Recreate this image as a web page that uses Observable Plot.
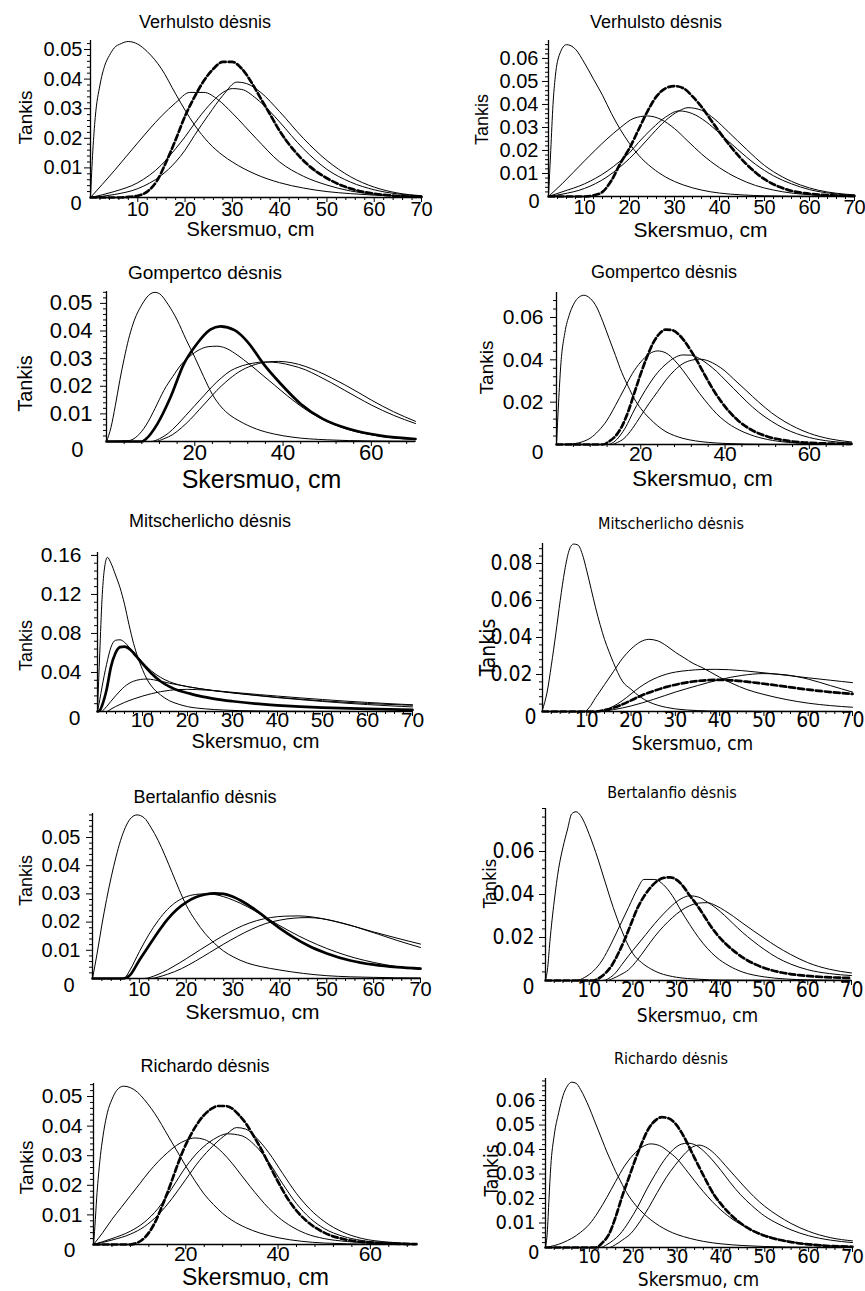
<!DOCTYPE html>
<html><head><meta charset="utf-8">
<script src="https://cdn.jsdelivr.net/npm/d3@7"></script>
<script src="https://cdn.jsdelivr.net/npm/@observablehq/plot@0.6"></script>
<style>
html,body{margin:0;padding:0;background:#fff}
#page{position:relative;width:865px;height:1291px;overflow:hidden;background:#fff}
.panel{position:absolute}
.ttl{position:absolute;white-space:nowrap;transform:translate(-50%,-50%);color:#000;line-height:1}
</style></head>
<body><div id="page"></div>
<script>
// ---------- texts ----------
const Y_LABEL = "Tankis";
const X_LABEL = "Skersmuo, cm";
const TITLES = ["Verhulsto dėsnis","Verhulsto dėsnis","Gompertco dėsnis","Gompertco dėsnis","Mitscherlicho dėsnis","Mitscherlicho dėsnis","Bertalanfio dėsnis","Bertalanfio dėsnis","Richardo dėsnis","Richardo dėsnis"];
const X_TICKS_10 = [10,20,30,40,50,60,70];
const X_TICKS_20 = [20,40,60];
const Y_TICKS_A = [0.01,0.02,0.03,0.04,0.05];
const Y_TICKS_B = [0.01,0.02,0.03,0.04,0.05,0.06];
const Y_TICKS_C = [0.02,0.04,0.06];
const Y_TICKS_D = [0.04,0.08,0.12,0.16];
const Y_TICKS_E = [0.02,0.04,0.06,0.08];

// ---------- data: [diameter cm, density] ----------
// Verhulsto (left)
const verL_1 = [[0,0],[0.5,0.016],[1,0.027],[2,0.038],[3,0.0445],[4,0.048],[5,0.0505],[6.5,0.052],[8,0.0527],[10,0.0518],[12,0.0493],[15,0.0435],[18,0.035],[20,0.0295],[22,0.0245],[25,0.0185],[28,0.0142],[30,0.012],[35,0.0078],[40,0.005],[45,0.0032],[50,0.002],[55,0.0013],[60,0.0008],[70,0.0003]];
const verL_2 = [[0,0],[5,0.009],[10,0.0185],[15,0.0275],[18,0.032],[21,0.0355],[24,0.0355],[27,0.033],[30,0.0285],[35,0.02],[40,0.012],[45,0.0072],[50,0.0042],[55,0.0022],[60,0.0011],[70,0.0003]];
const verL_3 = [[0,0],[6,0],[8,0.0002],[10,0.0006],[12,0.002],[14,0.0055],[16,0.012],[18,0.0195],[20,0.0275],[22,0.034],[24,0.0395],[26,0.0435],[28,0.0458],[30,0.0458],[32,0.0435],[34,0.039],[36,0.0335],[38,0.028],[40,0.0225],[43,0.016],[46,0.011],[50,0.0065],[55,0.003],[60,0.0013],[65,0.0005],[70,0.0002]];
const verL_4 = [[0,0],[5,0.002],[10,0.005],[15,0.011],[18,0.0165],[20,0.0205],[22,0.025],[25,0.031],[28,0.0355],[30,0.0368],[32,0.0365],[35,0.0335],[38,0.029],[40,0.0255],[45,0.0165],[50,0.0095],[55,0.0052],[60,0.0026],[65,0.0012],[70,0.0005]];
const verL_5 = [[0,0],[5,0.001],[10,0.003],[15,0.0075],[18,0.012],[20,0.016],[22,0.021],[25,0.028],[28,0.0345],[31,0.039],[33,0.0385],[36,0.0355],[40,0.029],[45,0.02],[50,0.0125],[55,0.007],[60,0.0035],[65,0.0015],[70,0.0006]];
// Verhulsto (right)
const verR_1 = [[2,0],[2.5,0.02],[3,0.04],[3.5,0.052],[4.5,0.062],[6,0.066],[8,0.064],[10,0.058],[12,0.051],[14,0.044],[16,0.036],[18,0.029],[20,0.023],[22,0.018],[25,0.0125],[28,0.0085],[32,0.005],[36,0.0028],[40,0.0015],[45,0.0007],[50,0.0003],[60,0.0001],[70,0]];
const verR_2 = [[2,0],[5,0.0055],[10,0.0155],[15,0.025],[18,0.03],[21,0.034],[24,0.035],[27,0.0335],[30,0.0295],[33,0.024],[36,0.0185],[40,0.0125],[44,0.008],[48,0.0048],[52,0.0028],[56,0.0015],[60,0.0008],[70,0.0002]];
const verR_3 = [[2,0],[10,0],[12,0.0005],[14,0.002],[16,0.007],[18,0.0145],[20,0.021],[22,0.029],[24,0.037],[26,0.0435],[28,0.047],[30,0.048],[32,0.047],[34,0.0435],[36,0.039],[38,0.0335],[40,0.028],[43,0.0205],[46,0.014],[50,0.0075],[55,0.003],[60,0.0012],[65,0.0005],[70,0.0002]];
const verR_4 = [[2,0],[5,0.002],[10,0.0055],[15,0.011],[18,0.0155],[20,0.019],[22,0.0235],[25,0.0295],[28,0.0345],[31,0.0372],[34,0.036],[37,0.0325],[40,0.0275],[44,0.0205],[48,0.014],[52,0.009],[56,0.0055],[60,0.003],[65,0.0013],[70,0.0005]];
const verR_5 = [[2,0],[5,0.001],[10,0.0035],[15,0.0085],[18,0.013],[20,0.0165],[22,0.0205],[25,0.027],[28,0.033],[31,0.0372],[33,0.0386],[36,0.0375],[39,0.0335],[42,0.028],[46,0.0205],[50,0.0135],[54,0.0085],[58,0.005],[62,0.0027],[66,0.0014],[70,0.0007]];
// Gompertco (left)
const gomL_1 = [[0,0],[1,0.005],[2,0.013],[3,0.022],[4,0.03],[5,0.037],[6,0.0425],[8,0.0495],[10,0.0535],[11,0.054],[12,0.0535],[14,0.0495],[16,0.044],[18,0.037],[20,0.0305],[22,0.0235],[24,0.017],[26,0.0125],[28,0.0095],[30,0.0075],[34,0.0045],[38,0.0027],[42,0.0016],[50,0.0006],[60,0.0002],[70,0.0001]];
const gomL_2 = [[0,0],[5,0.0003],[7,0.002],[9,0.006],[11,0.012],[13,0.0185],[15,0.0235],[17,0.028],[19,0.031],[21,0.0332],[23,0.0343],[25,0.0345],[27,0.0338],[29,0.032],[31,0.0297],[33,0.0272],[35,0.0245],[38,0.0205],[41,0.0165],[44,0.0128],[47,0.0097],[50,0.0072],[55,0.0042],[60,0.0024],[65,0.0013],[70,0.0007]];
const gomL_3 = [[0,0],[8,0],[9,0.001],[11.5,0.0063],[14.5,0.016],[17.5,0.028],[20.5,0.0354],[23.5,0.0405],[25.8,0.0417],[29,0.0403],[32,0.036],[35.6,0.028],[39.4,0.021],[44,0.0136],[49,0.0082],[55,0.0045],[62,0.0021],[70,0.0009]];
const gomL_4 = [[0,0],[10,0],[12,0.001],[14,0.003],[16,0.006],[18,0.0095],[20,0.013],[22,0.0165],[24,0.02],[26,0.023],[28,0.0255],[30,0.027],[33,0.0283],[36,0.0288],[39,0.0285],[42,0.0275],[45,0.026],[48,0.0237],[51,0.0212],[54,0.0185],[57,0.0158],[60,0.0132],[65,0.0095],[70,0.0065]];
const gomL_5 = [[0,0],[11,0],[13,0.001],[15,0.0025],[17,0.005],[19,0.008],[21,0.0115],[23,0.015],[25,0.0185],[27,0.0215],[30,0.0252],[33,0.0275],[36,0.0287],[39,0.029],[42,0.0285],[45,0.0272],[48,0.0253],[51,0.023],[54,0.0205],[57,0.0178],[60,0.015],[65,0.0108],[70,0.0073]];
// Gompertco (right)
const gomR_1 = [[0,0],[0.5,0.02],[1,0.037],[2,0.053],[3,0.061],[4,0.066],[5,0.069],[6.5,0.0705],[8,0.069],[9.5,0.065],[11,0.058],[12.5,0.05],[14,0.042],[15.5,0.034],[17,0.0275],[18.5,0.0215],[20,0.017],[22,0.0125],[24,0.0088],[26,0.006],[28,0.0042],[30,0.0029],[33,0.0017],[36,0.001],[40,0.0005],[50,0.0001],[70,0]];
const gomR_2 = [[0,0],[3,0.0002],[6,0.0012],[8,0.003],[10,0.0065],[12,0.0115],[14,0.0185],[16,0.026],[18,0.0335],[20,0.039],[22,0.0428],[24,0.0442],[26,0.0432],[28,0.0398],[30,0.035],[32,0.0295],[34,0.024],[36,0.019],[38,0.0145],[40,0.011],[43,0.0072],[46,0.0046],[50,0.0024],[55,0.001],[60,0.0004],[70,0.0001]];
const gomR_3 = [[0,0],[11,0],[12.5,0.0015],[14,0.004],[15.5,0.0085],[17,0.0155],[18.5,0.0245],[20,0.0335],[21.5,0.0415],[23,0.0482],[24.5,0.0525],[26,0.0543],[27.5,0.054],[29,0.052],[30.5,0.0485],[32,0.044],[33.5,0.039],[35,0.0335],[37,0.0265],[39,0.0205],[41,0.0155],[43,0.0115],[46,0.0072],[50,0.0038],[55,0.0017],[60,0.0008],[70,0.0003]];
const gomR_4 = [[0,0],[12,0],[13.5,0.001],[15,0.004],[16.5,0.0085],[18,0.0145],[20,0.022],[22,0.0285],[24,0.034],[26,0.038],[28,0.041],[30,0.0423],[32,0.0422],[34,0.0405],[36,0.0378],[38,0.0345],[40,0.0305],[42,0.0265],[45,0.0205],[48,0.0152],[51,0.011],[54,0.0076],[57,0.0051],[60,0.0033],[65,0.0015],[70,0.0007]];
const gomR_5 = [[0,0],[13,0],[14.5,0.001],[16,0.0028],[18,0.0075],[20,0.0135],[22,0.0195],[24,0.025],[26,0.0305],[28,0.035],[30,0.0382],[32,0.0398],[34,0.0403],[36,0.0395],[38,0.0375],[40,0.0347],[42,0.031],[45,0.0255],[48,0.02],[51,0.015],[54,0.011],[57,0.0078],[60,0.0053],[65,0.0026],[70,0.0012]];
// Mitscherlicho (left)
const mitL_1 = [[0,0],[0.5,0.06],[1,0.115],[1.5,0.145],[2.2,0.158],[3,0.152],[4,0.14],[5,0.127],[6,0.11],[7,0.089],[8,0.07],[9,0.055],[10,0.043],[11,0.033],[12,0.026],[14,0.017],[16,0.011],[18,0.0075],[20,0.005],[24,0.0027],[28,0.0015],[35,0.0006],[45,0.0002],[70,0]];
const mitL_2 = [[0,0],[0.5,0.012],[1,0.025],[2,0.048],[3,0.066],[4,0.073],[5,0.0735],[6,0.071],[7,0.066],[8,0.061],[10,0.0505],[12,0.0415],[14,0.035],[16,0.0305],[18,0.0275],[20,0.0255],[25,0.022],[30,0.0192],[35,0.0168],[40,0.0146],[45,0.0127],[50,0.011],[55,0.0095],[60,0.0082],[65,0.0072],[70,0.0064]];
const mitL_3 = [[0,0],[0.5,0.001],[1,0.006],[2,0.022],[3,0.046],[4,0.06],[5,0.066],[6,0.0665],[7,0.0645],[8,0.06],[9,0.0545],[10,0.049],[12,0.039],[14,0.031],[16,0.0255],[18,0.0215],[20,0.019],[23,0.0155],[26,0.013],[30,0.0105],[35,0.008],[40,0.0063],[45,0.005],[50,0.004],[60,0.0026],[70,0.0016]];
const mitL_4 = [[0,0],[0.8,0],[2,0.005],[3,0.0105],[4,0.016],[5,0.021],[6,0.0255],[7,0.0288],[8,0.031],[9.5,0.0328],[11,0.0333],[12.5,0.0325],[14,0.031],[16,0.029],[18,0.0272],[20,0.0255],[23,0.0232],[26,0.0212],[30,0.019],[35,0.0165],[40,0.0142],[45,0.0122],[50,0.0103],[55,0.0086],[60,0.0071],[65,0.0058],[70,0.0047]];
const mitL_5 = [[0,0],[2,0],[3,0.0025],[4,0.005],[5,0.0072],[6,0.0093],[8,0.0128],[10,0.0158],[12,0.0183],[14,0.0203],[16,0.0217],[18,0.0225],[20,0.0227],[22,0.0225],[25,0.0217],[28,0.0205],[32,0.0189],[36,0.0173],[40,0.0158],[45,0.014],[50,0.0123],[55,0.0107],[60,0.0093],[65,0.008],[70,0.0069]];
// Mitscherlicho (right)
const mitR_1 = [[0,0.001],[1,0.01],[2,0.025],[3,0.042],[4,0.06],[5,0.076],[6,0.087],[7,0.0905],[8,0.09],[9,0.085],[10,0.076],[11,0.066],[12,0.056],[13,0.047],[14,0.039],[15,0.0325],[16,0.0265],[17,0.021],[18,0.0165],[20,0.012],[22,0.008],[24,0.0052],[26,0.0034],[28,0.0022],[30,0.0014],[35,0.0005],[40,0.0002],[70,0]];
const mitR_2 = [[0,0],[9.5,0],[10.5,0.002],[12,0.0075],[14,0.0145],[16,0.0215],[18,0.0285],[20,0.0338],[22,0.0375],[24,0.039],[26,0.0382],[28,0.0355],[30,0.032],[32,0.029],[34,0.026],[36,0.0238],[38,0.0212],[40,0.0185],[43,0.015],[46,0.012],[50,0.0092],[55,0.0065],[60,0.0045],[65,0.0032],[70,0.0023]];
const mitR_3 = [[0,0],[12,0],[14,0.0008],[16,0.002],[18,0.0038],[20,0.006],[22,0.0083],[25,0.011],[28,0.0133],[31,0.015],[34,0.0162],[37,0.0169],[40,0.0171],[43,0.0168],[46,0.0161],[50,0.015],[55,0.0134],[60,0.0118],[65,0.0105],[70,0.0095]];
const mitR_4 = [[0,0],[12,0],[14,0.0008],[16,0.0028],[18,0.0058],[20,0.0095],[22,0.0132],[24,0.0162],[26,0.0185],[28,0.0202],[30,0.0213],[33,0.0222],[36,0.0227],[39,0.0228],[42,0.0226],[45,0.0221],[48,0.0214],[52,0.0204],[56,0.0193],[60,0.0182],[65,0.0169],[70,0.0156]];
const mitR_5 = [[0,0],[13,0],[16,0.001],[20,0.003],[25,0.0065],[30,0.0105],[35,0.014],[40,0.0172],[45,0.0195],[50,0.0205],[55,0.0198],[60,0.0175],[65,0.014],[70,0.0105]];
// Bertalanfio (left)
const berL_1 = [[0,0],[1,0.009],[2,0.019],[3,0.028],[4,0.036],[5,0.043],[6,0.049],[7,0.0535],[8,0.0565],[9.5,0.058],[11,0.057],[12.5,0.0535],[14,0.049],[15.5,0.0435],[17,0.0375],[18.5,0.0315],[20,0.026],[22,0.0205],[24,0.016],[26,0.0125],[28,0.0097],[30,0.0077],[33,0.0055],[36,0.0042],[40,0.003],[45,0.0018],[50,0.001],[60,0.0004],[70,0.0002]];
const berL_2 = [[0,0],[6,0],[7,0.0005],[8,0.003],[10,0.0095],[12,0.0155],[14,0.0205],[16,0.0245],[18,0.0273],[20,0.029],[22,0.0298],[24,0.03],[26,0.0298],[28,0.029],[30,0.0278],[33,0.0255],[36,0.0226],[40,0.0187],[44,0.0151],[48,0.012],[52,0.0094],[56,0.0073],[60,0.0057],[65,0.0042],[70,0.0032]];
const berL_3 = [[0,0],[6.5,0],[8,0.0012],[10,0.0065],[12,0.0115],[14,0.0165],[16,0.021],[18,0.0245],[20,0.027],[22,0.0288],[24,0.0298],[26,0.0302],[28,0.03],[30,0.029],[32,0.0273],[34,0.0252],[36,0.0228],[38,0.0202],[40,0.0178],[43,0.0145],[46,0.0117],[50,0.0089],[55,0.0064],[60,0.0049],[65,0.004],[70,0.0035]];
const berL_4 = [[0,0],[11,0],[13,0.0008],[15,0.0022],[17,0.004],[20,0.007],[23,0.0102],[26,0.0133],[29,0.0162],[32,0.0187],[35,0.0205],[38,0.0216],[41,0.0221],[44,0.0222],[47,0.0218],[50,0.0209],[53,0.0197],[56,0.0184],[60,0.0165],[65,0.0143],[70,0.0122]];
const berL_5 = [[0,0],[12.5,0],[14,0.0005],[16,0.0015],[19,0.0035],[22,0.0062],[25,0.0092],[28,0.0122],[31,0.015],[34,0.0175],[37,0.0195],[40,0.0207],[43,0.0214],[46,0.0216],[49,0.0212],[52,0.0202],[55,0.0189],[58,0.0173],[61,0.0157],[65,0.0135],[70,0.011]];
// Bertalanfio (right)
const berR_1 = [[0,0],[0.5,0.006],[1,0.018],[2,0.037],[3,0.052],[4,0.062],[5,0.07],[6,0.0775],[7,0.0785],[8,0.0768],[9,0.073],[10,0.068],[11,0.0625],[12,0.0565],[13,0.05],[14,0.0435],[15,0.037],[16,0.031],[17,0.0255],[18,0.0205],[19,0.016],[20,0.0125],[22,0.0083],[24,0.0055],[26,0.0035],[28,0.0023],[30,0.0015],[35,0.0006],[40,0.0002],[70,0]];
const berR_2 = [[0,0],[7,0],[9,0.0015],[11,0.0045],[13,0.0095],[15,0.017],[17,0.0255],[19,0.034],[21,0.0425],[22.5,0.047],[25,0.047],[27,0.0445],[29,0.0395],[31,0.0325],[33,0.026],[35,0.02],[37,0.015],[39,0.011],[42,0.0068],[45,0.004],[50,0.0017],[55,0.0007],[60,0.0003],[70,0.0001]];
const berR_3 = [[0,0],[11,0],[12,0.0008],[13.5,0.003],[15,0.0065],[16.5,0.012],[18,0.0185],[19.5,0.026],[21,0.0335],[22.5,0.039],[24,0.0432],[25.5,0.0462],[27,0.0477],[28.5,0.048],[30,0.0468],[31.5,0.0438],[33,0.0395],[34.5,0.0355],[36,0.031],[37.5,0.0262],[39,0.022],[41,0.0175],[43,0.0139],[45.5,0.0102],[48,0.0075],[51,0.0052],[54,0.0037],[58,0.0025],[62,0.0018],[70,0.0012]];
const berR_4 = [[0,0],[13,0],[14.5,0.001],[16,0.0035],[17.5,0.0075],[19,0.0115],[21,0.0165],[23,0.0215],[25,0.0265],[27,0.031],[29,0.035],[31,0.038],[33,0.0394],[35,0.0388],[37,0.0365],[39,0.0337],[41,0.0302],[43,0.0263],[45,0.0225],[47.5,0.0183],[50,0.0145],[53,0.0106],[56,0.0077],[60,0.005],[65,0.0032],[70,0.0023]];
const berR_5 = [[0,0],[14,0],[15.5,0.001],[17,0.0025],[19,0.005],[21,0.0095],[23,0.015],[25,0.0205],[27,0.0252],[29,0.0292],[31,0.0325],[33,0.0348],[35,0.036],[37,0.0362],[39,0.0348],[41,0.0325],[43,0.0298],[45,0.0268],[47.5,0.0232],[50,0.0197],[53,0.0157],[56,0.0122],[60,0.0083],[65,0.0052],[70,0.0035]];
// Richardo (left)
const ricL_1 = [[0,0],[0.3,0.006],[0.7,0.016],[1,0.022],[1.5,0.03],[2,0.036],[3,0.0445],[4,0.049],[5,0.052],[6.5,0.0535],[8,0.053],[9.5,0.0515],[11,0.049],[12.5,0.046],[14,0.0425],[15.5,0.0385],[17,0.0345],[18.5,0.0305],[20,0.0265],[22,0.0215],[24,0.017],[26,0.0135],[28,0.0105],[30,0.0082],[33,0.0057],[36,0.0039],[40,0.0023],[45,0.0011],[50,0.0005],[60,0.0001],[70,0]];
const ricL_2 = [[0,0],[2,0.004],[4,0.0085],[6,0.0125],[8,0.0165],[10,0.0205],[12,0.0245],[14,0.028],[16,0.031],[18,0.0335],[20,0.0352],[22,0.036],[24,0.0355],[26,0.0337],[28,0.031],[30,0.0275],[32,0.0235],[34,0.0195],[36,0.0157],[38,0.0122],[40,0.0093],[43,0.006],[46,0.0037],[50,0.002],[55,0.001],[60,0.0005],[70,0.0001]];
const ricL_3 = [[0,0],[8,0],[9,0.0003],[10.5,0.0015],[12,0.004],[13.5,0.008],[15,0.0135],[16.5,0.0195],[18,0.026],[19.5,0.032],[21,0.0368],[22.5,0.0408],[24,0.0438],[25.5,0.0458],[27,0.0468],[28.5,0.0468],[30,0.046],[31.5,0.0438],[33,0.041],[34.5,0.0372],[36,0.0332],[38,0.0272],[40,0.0212],[42,0.0157],[44,0.0114],[46,0.0082],[48,0.0058],[51,0.0033],[54,0.0019],[58,0.0009],[63,0.0004],[70,0.0001]];
const ricL_4 = [[0,0],[4,0.002],[8,0.0045],[11,0.0075],[14,0.0122],[17,0.019],[20,0.0262],[23,0.0318],[26,0.0355],[29,0.0374],[32,0.0368],[35,0.0335],[38,0.0278],[41,0.0205],[44,0.0138],[47,0.0088],[50,0.0054],[54,0.0028],[58,0.0014],[64,0.0005],[70,0.0002]];
const ricL_5 = [[0,0],[4,0.0015],[8,0.0035],[11,0.006],[14,0.01],[17,0.0155],[20,0.022],[23,0.0284],[26,0.0335],[29,0.0375],[31,0.0395],[33,0.039],[35,0.0365],[38,0.031],[41,0.024],[44,0.0172],[47,0.0118],[50,0.0078],[54,0.0042],[58,0.0021],[64,0.0008],[70,0.0003]];
// Richardo (right)
const ricR_1 = [[0,0],[0.4,0.006],[0.8,0.02],[1.2,0.033],[2,0.046],[3,0.055],[4,0.062],[5,0.066],[6,0.0675],[7,0.067],[8,0.0645],[9,0.061],[10,0.057],[11,0.0525],[12,0.048],[13,0.0435],[14,0.039],[15,0.035],[16,0.031],[17,0.0275],[18,0.024],[20,0.0185],[22,0.0145],[24,0.0113],[26,0.0088],[28,0.0068],[30,0.0053],[33,0.0037],[36,0.0025],[40,0.0015],[45,0.0008],[50,0.0004],[60,0.0001],[70,0]];
const ricR_2 = [[0,0],[4,0.002],[8,0.0062],[10,0.0095],[12,0.0145],[14,0.0205],[16,0.027],[18,0.0332],[20,0.0378],[22,0.041],[24,0.0423],[26,0.0416],[28,0.0392],[30,0.0362],[32,0.0318],[34,0.0272],[36,0.0228],[38,0.0188],[40,0.0153],[43,0.0111],[46,0.008],[50,0.005],[55,0.0027],[60,0.0014],[70,0.0004]];
const ricR_3 = [[0,0],[11.5,0],[13,0.002],[14.5,0.0055],[16,0.0125],[17.5,0.021],[19,0.0285],[20.5,0.036],[22,0.0428],[23.5,0.0485],[25,0.0518],[26.5,0.0532],[28,0.0528],[29.5,0.0508],[31,0.047],[32.5,0.042],[34,0.0365],[35.5,0.0312],[37,0.026],[38.5,0.0213],[40,0.0178],[42,0.0138],[44,0.0106],[46,0.0081],[48.5,0.0058],[52,0.0037],[56,0.0022],[61,0.0011],[70,0.0003]];
const ricR_4 = [[0,0],[12.5,0],[14,0.0012],[15.5,0.003],[17,0.0055],[19,0.0105],[21,0.0165],[23,0.0235],[25,0.0298],[27,0.0355],[29,0.0398],[31,0.0422],[32.5,0.0426],[34,0.042],[36,0.0395],[38,0.0358],[40,0.0315],[42,0.0268],[44.5,0.0215],[47,0.0172],[50,0.0128],[53,0.0097],[56,0.0072],[60,0.0048],[65,0.003],[70,0.002]];
const ricR_5 = [[0,0],[14.5,0],[16,0.0012],[17.5,0.003],[19.5,0.0058],[21.5,0.0105],[23.5,0.0162],[25.5,0.0225],[27.5,0.0285],[29.5,0.0335],[31.5,0.0378],[33.5,0.041],[35,0.0418],[37,0.0405],[39,0.0375],[41,0.0335],[43,0.0295],[45,0.0255],[47.5,0.0208],[50,0.0168],[53,0.013],[56,0.0098],[60,0.0066],[65,0.004],[70,0.0027]];

// ---------- layout ----------
const FONT = '"Liberation Sans", Arial, Helvetica, sans-serif';
const NARROW = '"Liberation Sans Narrow", "Arial Narrow", "DejaVu Sans Condensed", sans-serif';

const panels = [
 {t:0, col:0, x0:90, x1:421, yTop:40, yBot:197, xd:[0,70], yMax:0.05304, yT:Y_TICKS_A, xT:X_TICKS_10, xm:2, ym:0.002,
  curves:[verL_1,verL_2,verL_4,verL_5,verL_3], bold:"dash", font:FONT, tfs:20, lfs:20, kfs:19, ttfs:18, ypad:8, xpad:4, title:[205,22], tank:[25,117], xlab:[250,229], zero:[-9,6]},
 {t:1, col:1, x0:548, x1:854, yTop:40, yBot:196, xd:[2,70], yMax:0.0678, yT:Y_TICKS_B, xT:X_TICKS_10, xm:2, ym:0.002,
  curves:[verR_1,verR_2,verR_4,verR_5,verR_3], bold:"dash", font:FONT, tfs:20, lfs:21, kfs:18, ttfs:18, ypad:10, xpad:3, title:[656,22], tank:[482,119], xlab:[700,230], zero:[-9,5]},
 {t:2, col:0, x0:106, x1:415, yTop:291, yBot:441, xd:[0,70], yMax:0.0543, yT:Y_TICKS_A, xT:X_TICKS_20, xm:4, ym:0.002,
  curves:[gomL_1,gomL_2,gomL_4,gomL_5,gomL_3], bold:"solid", font:FONT, tfs:22, lfs:25, kfs:20, ttfs:19, ypad:14, xpad:3, title:[205,272], tank:[25,383], xlab:[261,479], zero:[-23,8]},
 {t:3, col:1, x0:556, x1:851, yTop:292, yBot:444, xd:[0,70], yMax:0.0718, yT:Y_TICKS_C, xT:X_TICKS_20, xm:4, ym:0.004,
  curves:[gomR_1,gomR_2,gomR_4,gomR_5,gomR_3], bold:"dash", font:FONT, tfs:21, lfs:22, kfs:19, ttfs:18, ypad:13, xpad:2, title:[664,272], tank:[486,367], xlab:[702,478], zero:[-13,8]},
 {t:4, col:0, x0:97, x1:412, yTop:552, yBot:711, xd:[0,70], yMax:0.163, yT:Y_TICKS_D, xT:X_TICKS_10, xm:2, ym:0.008,
  curves:[mitL_1,mitL_2,mitL_4,mitL_5,mitL_3], bold:"solid", font:FONT, tfs:21, lfs:20, kfs:18, ttfs:18, ypad:16, xpad:1, title:[210,521], tank:[26,645], xlab:[255,741], zero:[-17,7]},
 {t:5, col:1, x0:542, x1:852, yTop:543, yBot:711, xd:[0,70], yMax:0.0908, yT:Y_TICKS_E, xT:X_TICKS_10, xm:2, ym:0.004,
  curves:[mitR_1,mitR_2,mitR_4,mitR_5,mitR_3], bold:"dash", font:NARROW, tfs:21, lfs:19, kfs:21, ttfs:16, ypad:10, xpad:1, title:[671,524], tank:[488,647], xlab:[692,743], zero:[-6,6]},
 {t:6, col:0, x0:92, x1:420, yTop:813, yBot:978, xd:[0,70], yMax:0.0585, yT:Y_TICKS_A, xT:X_TICKS_10, xm:2, ym:0.002,
  curves:[berL_1,berL_2,berL_4,berL_5,berL_3], bold:"solid", font:FONT, tfs:20, lfs:21, kfs:18, ttfs:18, ypad:12, xpad:3, title:[205,797], tank:[26,880], xlab:[252,1012], zero:[-18,7]},
 {t:7, col:1, x0:545, x1:851, yTop:808, yBot:980, xd:[0,70], yMax:0.080, yT:Y_TICKS_C, xT:X_TICKS_10, xm:2, ym:0.004,
  curves:[berR_1,berR_2,berR_4,berR_5,berR_3], bold:"dash", font:NARROW, tfs:21, lfs:19, kfs:18, ttfs:16, ypad:11, xpad:2, title:[672,793], tank:[490,883], xlab:[697,1015], zero:[-11,7]},
 {t:8, col:0, x0:93, x1:416, yTop:1083, yBot:1244, xd:[0,70], yMax:0.0544, yT:Y_TICKS_A, xT:X_TICKS_20, xm:4, ym:0.002,
  curves:[ricL_1,ricL_2,ricL_4,ricL_5,ricL_3], bold:"dash", font:FONT, tfs:21, lfs:23, kfs:19, ttfs:18, ypad:11, xpad:2, title:[205,1066], tank:[26,1167], xlab:[255,1277], zero:[-18,6]},
 {t:9, col:1, x0:545, x1:852, yTop:1078, yBot:1247, xd:[0,70], yMax:0.069, yT:Y_TICKS_B, xT:X_TICKS_10, xm:2, ym:0.002,
  curves:[ricR_1,ricR_2,ricR_4,ricR_5,ricR_3], bold:"dash", font:NARROW, tfs:20, lfs:19, kfs:19, ttfs:16, ypad:10, xpad:1, title:[671,1059], tank:[491,1170], xlab:[698,1279], zero:[-6,5]}
];

const page = document.getElementById("page");
const near = (arr, v) => arr.some(t => Math.abs(t - v) < 1e-7);

for (const p of panels) {
  const colLeft = p.col === 0 ? 0 : 432;
  const W = p.col === 0 ? 432 : 433;
  const svgTop = p.yTop - 10;
  const H = p.yBot - svgTop + 52;
  const mL = p.x0 - colLeft, mR = colLeft + W - p.x1;
  const mT = p.yTop - svgTop, mB = H - (p.yBot - svgTop);
  const fw = p.x1 - p.x0, fh = p.yBot - p.yTop;
  const [xa, xb] = p.xd;
  const ux = (xb - xa) / fw, uy = p.yMax / fh;
  const xMinor = d3.range(Math.ceil((xa + 1e-9) / p.xm), Math.floor(xb / p.xm + 1e-9) + 1).map(i => i * p.xm).filter(v => v > xa);
  const yMinor = d3.range(1, Math.floor(p.yMax / p.ym + 1e-9) + 1).map(i => +(i * p.ym).toFixed(5));
  const n = p.curves.length;

  const marks = [
    Plot.ruleX(xMinor, {x: d => d, y1: 0, y2: d => -(near(p.xT, d) ? 5 : 3) * uy, stroke: "#000", strokeWidth: 1}),
    Plot.ruleY(yMinor, {y: d => d, x1: d => xa - (near(p.yT, d) ? 6 : 3) * ux, x2: xa, stroke: "#000", strokeWidth: 1}),
    Plot.ruleY([0], {x1: xa, x2: xb, stroke: "#000", strokeWidth: 1.3}),
    Plot.ruleX([xa], {y1: 0, y2: p.yMax, stroke: "#000", strokeWidth: 1.3}),
    ...p.curves.map((c, i) => {
      const isBold = i === n - 1;
      const opts = {x: d => d[0], y: d => d[1], curve: "monotone-x", stroke: "#000",
        strokeWidth: isBold ? 2.7 : 1, strokeLinejoin: "round"};
      if (isBold && p.bold === "dash") opts.strokeDasharray = "6,3";
      return Plot.line(c, opts);
    }),
    Plot.text(["0"], {frameAnchor: "bottom-left", text: d => d, textAnchor: "end", lineAnchor: "middle", dx: p.zero[0], dy: p.zero[1], fontSize: p.tfs}),
    Plot.text([Y_LABEL], {frameAnchor: "left", text: d => d, rotate: -90, textAnchor: "middle", lineAnchor: "middle", dx: p.tank[0] - p.x0, dy: p.tank[1] - (p.yTop + p.yBot) / 2, fontSize: p.kfs}),
    Plot.text([X_LABEL], {frameAnchor: "bottom", text: d => d, textAnchor: "middle", lineAnchor: "middle", dx: p.xlab[0] - (p.x0 + p.x1) / 2, dy: p.xlab[1] - p.yBot, fontSize: p.lfs})
  ];

  const svg = Plot.plot({
    width: W, height: H, marginLeft: mL, marginRight: mR, marginTop: mT, marginBottom: mB,
    style: {fontFamily: p.font, fontSize: p.tfs + "px", color: "#000", background: "transparent", overflow: "visible"},
    x: {domain: p.xd, ticks: p.xT, tickSize: 0, tickPadding: p.xpad, tickFormat: d => String(d), label: null},
    y: {domain: [0, p.yMax], ticks: p.yT, tickSize: 0, tickPadding: p.ypad, tickFormat: d3.format(".2f"), label: null},
    marks
  });
  const div = document.createElement("div");
  div.className = "panel";
  div.style.left = colLeft + "px";
  div.style.top = svgTop + "px";
  div.appendChild(svg);
  page.appendChild(div);

  const t = document.createElement("div");
  t.className = "ttl";
  t.textContent = TITLES[p.t];
  t.style.left = p.title[0] + "px";
  t.style.top = p.title[1] + "px";
  t.style.fontFamily = p.font;
  t.style.fontSize = p.ttfs + "px";
  page.appendChild(t);
}
</script>
</body></html>
